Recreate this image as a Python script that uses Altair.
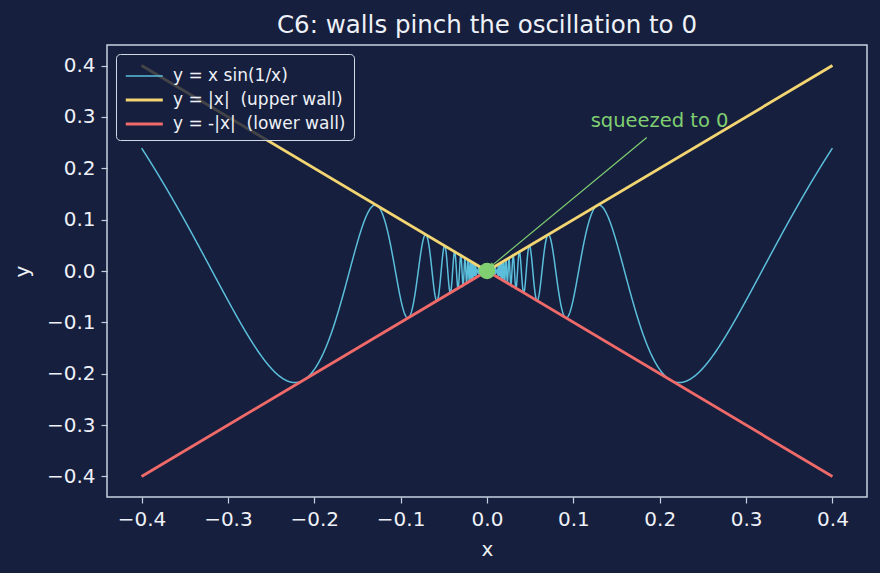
import numpy as np
import pandas as pd
import altair as alt

BG = "#161f3d"
FG = "#eef1f7"
SPINE = "#c9d1e0"
GREEN = "#7fcf72"
FONT = "DejaVu Sans"
NB = "\u00a0"

series_names = ["y = x sin(1/x)",
                "y = |x|" + NB + " (upper wall)",
                "y = -|x|" + NB + " (lower wall)"]
series_colors = ["#5bbfdc", "#f3d672", "#f06a6a"]
series_widths = [1.5, 2.8, 2.8]

# walls
wall_x = [-0.4, 0.0, 0.4]
upper_y = [0.4, 0.0, 0.4]
lower_y = [-0.4, 0.0, -0.4]

# the oscillating curve y = x sin(1/x), as named in the legend
curve_x = np.linspace(-0.4, 0.4, 2000)
curve_y = curve_x * np.sin(1.0 / curve_x)

# annotation
point_x = [0.0]
point_y = [0.0]
label_x = [0.12]
label_y = [0.28]
label_text = ["squeezed to 0"]
arrow_from_x = [0.185]
arrow_from_y = [0.26]
arrow_to_x = [0.006]
arrow_to_y = [0.011]

x_ticks = [-0.4, -0.3, -0.2, -0.1, 0.0, 0.1, 0.2, 0.3, 0.4]
y_ticks = [-0.4, -0.3, -0.2, -0.1, 0.0, 0.1, 0.2, 0.3, 0.4]

df_curve = pd.DataFrame({"x": curve_x, "y": curve_y, "series": series_names[0]})
df_upper = pd.DataFrame({"x": wall_x, "y": upper_y, "series": series_names[1]})
df_lower = pd.DataFrame({"x": wall_x, "y": lower_y, "series": series_names[2]})
df_point = pd.DataFrame({"x": point_x, "y": point_y})
df_label = pd.DataFrame({"x": label_x, "y": label_y, "t": label_text})
df_arrow = pd.DataFrame({"x": arrow_from_x, "y": arrow_from_y,
                         "x2": arrow_to_x, "y2": arrow_to_y})

xscale = alt.Scale(domain=[-0.44, 0.44], nice=False, zero=False)
yscale = alt.Scale(domain=[-0.44, 0.44], nice=False, zero=False)

xenc = alt.X("x:Q", scale=xscale, title="x",
             axis=alt.Axis(values=x_ticks, format=".1f"))
yenc = alt.Y("y:Q", scale=yscale, title="y",
             axis=alt.Axis(values=y_ticks, format=".1f"))

color = alt.Color(
    "series:N",
    scale=alt.Scale(domain=series_names, range=series_colors),
    legend=alt.Legend(
        title=None, orient="top-left", offset=9,
        symbolType="M-1,0H1.8", symbolSize=700,
        labelFontSize=17, labelColor=FG, labelFont=FONT, labelLimit=400,
        labelOffset=19, rowPadding=1, padding=8,
        fillColor="rgba(22,31,61,0.8)", strokeColor="#d3d9e4",
        cornerRadius=4,
    ),
)
swidth = alt.StrokeWidth(
    "series:N",
    scale=alt.Scale(type="ordinal", domain=series_names, range=series_widths),
)

def line_layer(df):
    return alt.Chart(df).mark_line(clip=True).encode(
        x=xenc, y=yenc, color=color, strokeWidth=swidth, order="x:Q"
    )

curve = line_layer(df_curve)
upper = line_layer(df_upper)
lower = line_layer(df_lower)

dot = alt.Chart(df_point).mark_circle(size=270, opacity=1, color=GREEN).encode(
    x="x:Q", y="y:Q"
)

arrow = alt.Chart(df_arrow).mark_rule(color=GREEN, strokeWidth=1.2).encode(
    x="x:Q", y="y:Q", x2="x2:Q", y2="y2:Q"
)
head = alt.Chart(df_arrow).mark_point(
    shape="triangle", filled=True, size=28, angle=231, color=GREEN, opacity=1
).encode(x="x2:Q", y="y2:Q")

label = alt.Chart(df_label).mark_text(
    align="left", baseline="alphabetic", fontSize=19.5, color=GREEN, font=FONT
).encode(x="x:Q", y="y:Q", text="t:N")

chart = alt.layer(curve, upper, lower, arrow, head, dot, label).properties(
    width=760, height=452,
    title=alt.Title("C6: walls pinch the oscillation to 0", fontSize=24.5,
                    color=FG, font=FONT, fontWeight="normal", anchor="middle",
                    offset=7),
    background=BG,
    padding={"left": 107, "top": 45, "right": 13, "bottom": 76},
    autosize=alt.AutoSizeParams(type="none"),
).configure_view(
    stroke=SPINE, strokeWidth=1.5
).configure_axis(
    domain=False, grid=False, tickColor=SPINE, tickSize=6, tickWidth=1.2,
    labelColor=FG, labelFontSize=20, labelFont=FONT, labelPadding=6,
    titleColor=FG, titleFontSize=20, titleFont=FONT, titleFontWeight="normal",
).configure_axisY(titlePadding=14).configure_axisX(titlePadding=10)

chart.save("out.html", embed_options={"renderer": "svg", "actions": False})
